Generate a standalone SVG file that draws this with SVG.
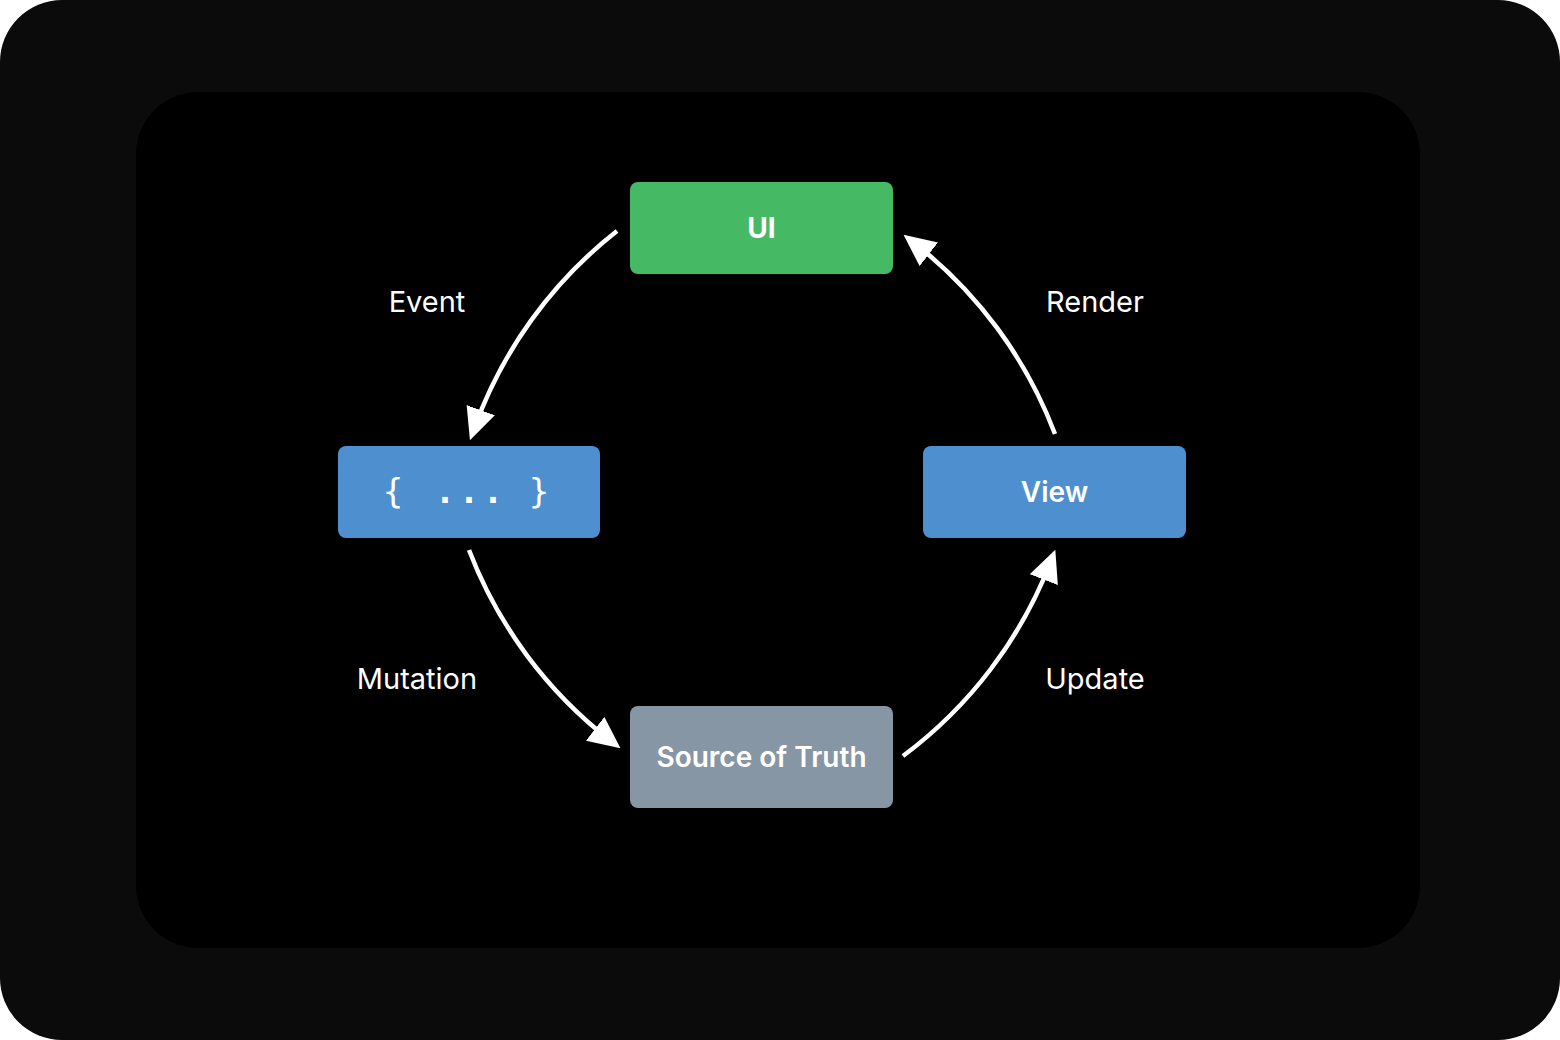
<svg xmlns="http://www.w3.org/2000/svg" width="1560" height="1040" viewBox="0 0 1560 1040">
<defs>
<style>
.node text{font-family:Inter,"Liberation Sans",sans-serif;font-size:28px;fill:#fff;text-anchor:middle;dominant-baseline:central}
.lbl{font-family:Inter,"Liberation Sans",sans-serif;font-size:29px;fill:#fff;text-anchor:middle;dominant-baseline:central}
.conn path{fill:none;stroke:#fff;stroke-width:4.5}
</style>
<marker id="ah" markerUnits="userSpaceOnUse" viewBox="0 0 32 30" markerWidth="32" markerHeight="30" refX="20" refY="15" orient="auto">
<path d="M0,0 L32,15 L0,30 z" fill="#fff"/>
</marker>
</defs>
<rect width="1560" height="1040" fill="#fff"/>
<rect width="1560" height="1040" rx="62" fill="#0b0b0b"/>
<rect x="136" y="92" width="1284" height="856" rx="62" fill="#000"/>
<g class="conn">
<path d="M617,231 A440,440 0 0 0 474,429" marker-end="url(#ah)"/>
<path d="M1055,434 A440,440 0 0 0 913,242" marker-end="url(#ah)"/>
<path d="M469,550 A440,440 0 0 0 611,741" marker-end="url(#ah)"/>
<path d="M903,756 A440,440 0 0 0 1051,561" marker-end="url(#ah)"/>
</g>
<text class="lbl" x="427" y="301">Event</text>
<text class="lbl" x="1095" y="301">Render</text>
<text class="lbl" x="417" y="678">Mutation</text>
<text class="lbl" x="1095" y="678">Update</text>
<g id="ui" class="node"><rect x="630" y="182" width="263" height="92" rx="8" fill="#45b964"/><text x="761.5" y="228" font-weight="700">UI</text></g>
<g id="code" class="node"><rect x="338" y="446" width="262" height="92" rx="8" fill="#4e8fd0"/><text y="491" style="font-family:'DejaVu Sans Mono','Liberation Mono',monospace;font-size:34px"><tspan x="393">{</tspan><tspan x="445" font-weight="700">.</tspan><tspan x="469" font-weight="700">.</tspan><tspan x="493" font-weight="700">.</tspan><tspan x="539">}</tspan></text></g>
<g id="view" class="node"><rect x="923" y="446" width="263" height="92" rx="8" fill="#4e8fd0"/><text x="1054.5" y="492" font-weight="600">View</text></g>
<g id="sot" class="node"><rect x="630" y="706" width="263" height="102" rx="8" fill="#8796a5"/><text x="761.5" y="757" font-weight="600">Source of Truth</text></g>
</svg>
